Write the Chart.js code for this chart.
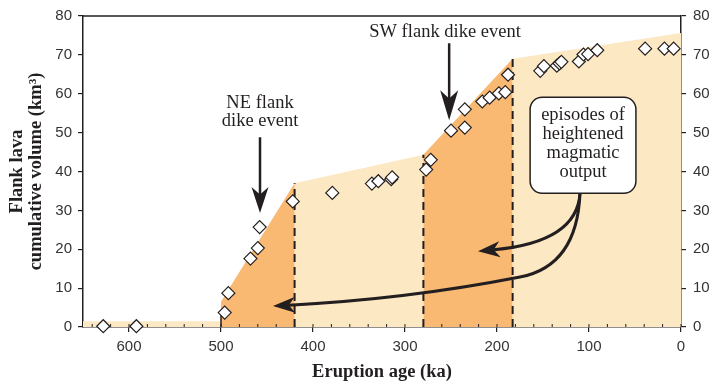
<!DOCTYPE html>
<html>
<head>
<meta charset="utf-8">
<script src="https://cdn.jsdelivr.net/npm/chart.js@4.4.0/dist/chart.umd.min.js"></script>
<style>
  html, body { margin: 0; padding: 0; background: #fff; }
  #wrap { width: 711px; height: 383px; }
</style>
</head>
<body>
<div id="wrap"><canvas id="volChart" width="711" height="383"></canvas></div>
<script>
// data (age in ka, volume in km3)
const eruptionAge = [628, 592, 496, 492, 468, 460, 458, 422, 379, 336, 329, 315, 314, 277, 272, 250, 235, 235, 216, 208,
                     198, 191, 188, 153, 149, 135, 132, 130, 111, 106, 101, 91, 39, 18, 8];
const cumVolume = [0.2, 0.2, 3.7, 8.7, 17.6, 20.3, 25.7, 32.3, 34.5, 36.9, 37.5, 38.0, 38.5, 40.5, 43.0, 50.5, 51.3, 56.0, 58.0, 59.0,
                   60.1, 60.4, 64.9, 65.9, 67.1, 67.2, 67.8, 68.2, 68.3, 70.1, 70.2, 71.2, 71.6, 71.6, 71.6];

// envelope (light fill) and the two high-output episodes (orange)
const envelopeAge = [650, 500, 500, 420, 280, 183, 0];
const envelopeVol = [1.5, 1.5, 6.5, 37, 44.3, 69, 75.6];
const episode1Age = [500, 420];
const episode1Vol = [6.5, 37];
const episode2Age = [280, 183];
const episode2Vol = [44.3, 69];
const dikeLineAge = [420, 280, 183];
const dikeLineTop = [37, 44.3, 69];

const xTickValues = [600, 500, 400, 300, 200, 100, 0];
const yTickValues = [0, 10, 20, 30, 40, 50, 60, 70, 80];

const BEIGE = "#fde8c4";
const ORANGE = "#f9b973";
const INK = "#231f20";
const SERIF = "'Liberation Serif', 'Times New Roman', serif";
const SANS = "'Liberation Sans Narrow', 'Liberation Sans', Arial, sans-serif";

function toPoints(xs, ys) {
  return xs.map((x, i) => ({ x: x, y: ys[i] }));
}

// dashed boundaries of the episodes
const dikeDatasets = dikeLineAge.map((age, i) => ({
  type: "line",
  data: toPoints([age, age], [0, dikeLineTop[i]]),
  borderColor: INK,
  borderWidth: 2,
  borderDash: [8, 5],
  pointRadius: 0,
  fill: false,
  order: 1
}));

// annotation positions, in axis units
const neText = { age: 457.6, vals: [57.6, 53.0], lines: ["NE flank", "dike event"] };
const neArrow = { age: 457.6, from: 48.8, to: 29.3 };
const swText = { age: 256.5, val: 75.8, text: "SW flank dike event" };
const swArrow = { age: 252, from: 73, to: 53.2 };
const calloutBox = { ageL: 164, ageR: 49, valT: 59.1, valB: 34.4 };
const calloutLines = ["episodes of", "heightened", "magmatic", "output"];
const calloutLineVals = [54.5, 49.6, 44.7, 39.8];

function arrowHead(ctx, tx, ty, ang, len, half) {
  ctx.save();
  ctx.translate(tx, ty);
  ctx.rotate(ang);
  ctx.beginPath();
  ctx.moveTo(0, 0);
  ctx.lineTo(-len, -half);
  ctx.lineTo(-len * 0.72, 0);
  ctx.lineTo(-len, half);
  ctx.closePath();
  ctx.fill();
  ctx.restore();
}

const annotationPlugin = {
  id: "annotations",
  afterDatasetsDraw(chart) {
    const { ctx, chartArea: a, scales: { x, y } } = chart;
    const px = v => x.getPixelForValue(v);
    const py = v => y.getPixelForValue(v);
    ctx.save();

    // top frame line
    ctx.strokeStyle = INK;
    ctx.lineWidth = 1.5;
    ctx.beginPath();
    ctx.moveTo(a.left, a.top);
    ctx.lineTo(a.right, a.top);
    ctx.stroke();

    // small inward ticks every 20 ka
    ctx.lineWidth = 1;
    ctx.beginPath();
    for (let v = 0; v <= 640; v += 20) {
      ctx.moveTo(px(v), a.bottom);
      ctx.lineTo(px(v), a.bottom - 3);
    }
    ctx.stroke();

    ctx.fillStyle = INK;
    ctx.strokeStyle = INK;

    // straight arrows
    ctx.lineWidth = 2.5;
    ctx.beginPath();
    ctx.moveTo(px(neArrow.age), py(neArrow.from));
    ctx.lineTo(px(neArrow.age), py(neArrow.to) - 18);
    ctx.moveTo(px(swArrow.age), py(swArrow.from));
    ctx.lineTo(px(swArrow.age), py(swArrow.to) - 20);
    ctx.stroke();
    arrowHead(ctx, px(neArrow.age), py(neArrow.to), Math.PI / 2, 26, 8.5);
    arrowHead(ctx, px(swArrow.age), py(swArrow.to), Math.PI / 2, 30, 9);

    // curved arrows from the callout
    const P = (age, val) => [px(age), py(val)];
    const s = P(109.8, 34.45);
    ctx.lineWidth = 3;

    // upper curve
    let c1 = P(112, 25.45), c2 = P(147.8, 21.1), tip = P(220.7, 19.5);
    let ang = Math.atan2(tip[1] - c2[1], tip[0] - c2[0]);
    let base = [tip[0] - Math.cos(ang) * 16, tip[1] - Math.sin(ang) * 16];
    ctx.beginPath();
    ctx.moveTo(s[0], s[1]);
    ctx.bezierCurveTo(c1[0], c1[1], c2[0], c2[1], base[0], base[1]);
    ctx.stroke();
    arrowHead(ctx, tip[0], tip[1], ang, 22, 8);

    // lower curve
    c1 = P(112, 21.1); c2 = P(135.9, 14.65);
    const mid = P(175, 12.85), q = P(296.7, 7.2);
    tip = P(443.5, 5.4);
    ang = Math.atan2(tip[1] - q[1], tip[0] - q[0]);
    base = [tip[0] - Math.cos(ang) * 16, tip[1] - Math.sin(ang) * 16];
    ctx.beginPath();
    ctx.moveTo(s[0], s[1]);
    ctx.bezierCurveTo(c1[0], c1[1], c2[0], c2[1], mid[0], mid[1]);
    ctx.quadraticCurveTo(q[0], q[1], base[0], base[1]);
    ctx.stroke();
    arrowHead(ctx, tip[0], tip[1], ang, 22, 8);

    // callout box
    const bx = px(calloutBox.ageL), by = py(calloutBox.valT);
    const bw = px(calloutBox.ageR) - bx, bh = py(calloutBox.valB) - by;
    const r = 12;
    ctx.beginPath();
    ctx.moveTo(bx + r, by);
    ctx.lineTo(bx + bw - r, by);
    ctx.arcTo(bx + bw, by, bx + bw, by + r, r);
    ctx.lineTo(bx + bw, by + bh - r);
    ctx.arcTo(bx + bw, by + bh, bx + bw - r, by + bh, r);
    ctx.lineTo(bx + r, by + bh);
    ctx.arcTo(bx, by + bh, bx, by + bh - r, r);
    ctx.lineTo(bx, by + r);
    ctx.arcTo(bx, by, bx + r, by, r);
    ctx.closePath();
    ctx.fillStyle = "#fff";
    ctx.fill();
    ctx.lineWidth = 1.5;
    ctx.stroke();

    // texts
    ctx.fillStyle = INK;
    ctx.font = "18.5px " + SERIF;
    ctx.textAlign = "center";
    ctx.textBaseline = "middle";
    neText.lines.forEach((t, i) => ctx.fillText(t, px(neText.age), py(neText.vals[i])));
    ctx.fillText(swText.text, px(swText.age), py(swText.val));
    calloutLines.forEach((t, i) => ctx.fillText(t, bx + bw / 2, py(calloutLineVals[i])));

    // axis titles
    ctx.font = "bold 18.5px " + SERIF;
    ctx.fillText("Eruption age (ka)", (a.left + a.right) / 2, 372);
    const cy = (a.top + a.bottom) / 2;
    ctx.translate(17, cy);
    ctx.rotate(-Math.PI / 2);
    ctx.fillText("Flank lava", 0, 0);
    ctx.fillText("cumulative volume (km\u00b3)", 0, 19.5);
    ctx.restore();
  }
};

new Chart(document.getElementById("volChart"), {
  type: "scatter",
  data: {
    datasets: [
      {
        data: toPoints(eruptionAge, cumVolume),
        pointStyle: "rectRot",
        pointRadius: 6.5,
        pointBackgroundColor: "#fff",
        pointBorderColor: INK,
        pointBorderWidth: 1.2,
        clip: false,
        order: 0
      },
      ...dikeDatasets,
      {
        type: "line",
        data: toPoints([500, 500], [0, 3]),
        borderColor: INK,
        borderWidth: 1.5,
        pointRadius: 0,
        fill: false,
        order: 1
      },
      {
        type: "line",
        data: toPoints(episode1Age, episode1Vol),
        borderWidth: 0,
        pointRadius: 0,
        fill: "origin",
        backgroundColor: ORANGE,
        order: 2
      },
      {
        type: "line",
        data: toPoints(episode2Age, episode2Vol),
        borderWidth: 0,
        pointRadius: 0,
        fill: "origin",
        backgroundColor: ORANGE,
        order: 2
      },
      {
        type: "line",
        data: toPoints(envelopeAge, envelopeVol),
        borderWidth: 0,
        pointRadius: 0,
        fill: "origin",
        backgroundColor: BEIGE,
        order: 3
      }
    ]
  },
  options: {
    responsive: false,
    animation: false,
    devicePixelRatio: 1,
    layout: { padding: { top: 16, left: 0, right: 0, bottom: 0 } },
    plugins: { legend: { display: false }, tooltip: { enabled: false } },
    scales: {
      x: {
        type: "linear",
        min: 0,
        max: 650,
        reverse: true,
        afterBuildTicks: s => { s.ticks = xTickValues.map(v => ({ value: v })); },
        afterFit: s => { s.height = 56; },
        grid: { drawOnChartArea: false, tickLength: 5, color: INK, lineWidth: 1.2 },
        border: { color: INK, width: 1.5 },
        ticks: { font: { family: SANS, size: 15 }, color: "#333", padding: 6, maxRotation: 0 }
      },
      y: {
        position: "left",
        min: 0,
        max: 80,
        afterBuildTicks: s => { s.ticks = yTickValues.map(v => ({ value: v })); },
        afterFit: s => { s.width = 83; },
        grid: { drawOnChartArea: false, tickLength: 5, color: INK, lineWidth: 1.2 },
        border: { color: INK, width: 1.5 },
        ticks: { font: { family: SANS, size: 15 }, color: "#333", padding: 6 }
      },
      y2: {
        position: "right",
        min: 0,
        max: 80,
        afterBuildTicks: s => { s.ticks = yTickValues.map(v => ({ value: v })); },
        afterFit: s => { s.width = 30; },
        grid: { drawOnChartArea: false, tickLength: 5, color: INK, lineWidth: 1.2 },
        border: { color: INK, width: 1.5 },
        ticks: { font: { family: SANS, size: 15 }, color: "#333", padding: 7 }
      }
    }
  },
  plugins: [annotationPlugin]
});
</script>
</body>
</html>
